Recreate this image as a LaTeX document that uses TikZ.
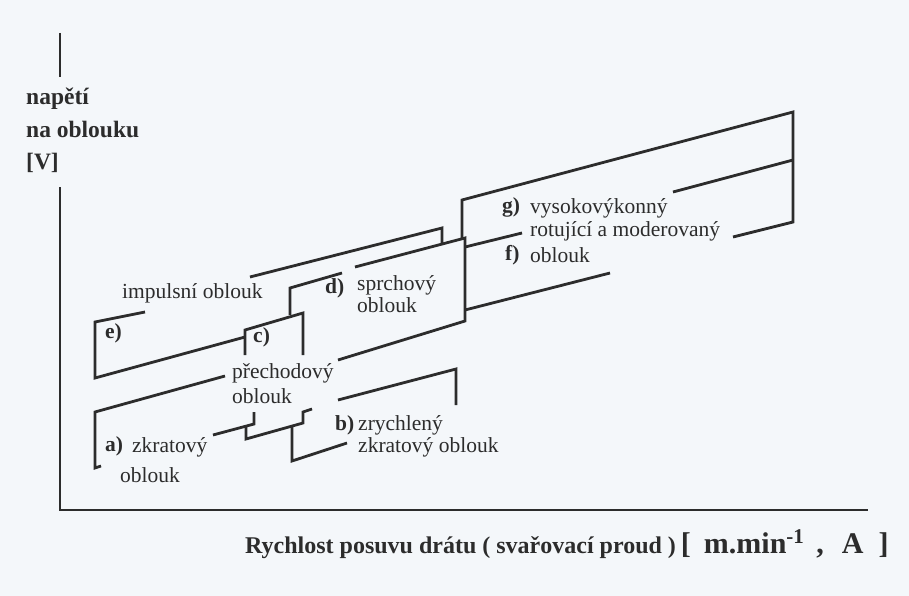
\documentclass[tikz,border=0pt]{standalone}
\usepackage{fontspec}
\setmainfont{Liberation Serif}
\definecolor{papir}{RGB}{244,247,250}
\definecolor{tuzka}{RGB}{44,44,44}
\tikzset{
  obrys/.style={line width=2.8pt, draw=tuzka, line cap=butt, line join=miter},
  osa/.style={line width=2.2pt, draw=tuzka},
  popis/.style={anchor=base west, inner sep=0pt, text=tuzka, font=\fontsize{21.5}{23}\selectfont},
  pismeno/.style={popis, font=\fontsize{21.5}{23}\selectfont\bfseries},
  osovy/.style={anchor=base west, inner sep=0pt, text=tuzka, font=\fontsize{23.5}{25}\selectfont\bfseries},
}
\begin{document}
\begin{tikzpicture}[x=1pt,y=-1pt]
    \fill[papir] (0,0) rectangle (909,596);
    \useasboundingbox (0,0) rectangle (909,596);
    % Osy
    \draw[osa] (60,33) -- (60,77);
    \draw[osa] (60,187) -- (60,510) -- (868,510);
    \node[osovy] (napeti) at (26,105) {napětí};
    \node[osovy] (naoblouku) at (26,138) {na oblouku};
    \node[osovy] (volty) at (26,169) {[V]};
    \node[osovy, font=\fontsize{24}{26}\selectfont\bfseries] (rychlost) at (245,553)
        {Rychlost posuvu drátu ( svařovací proud )\hspace{5pt}{\fontsize{30}{32}\selectfont[\hspace{13pt}m.min\textsuperscript{-1}\hspace{12pt},\hspace{18pt}A\hspace{15pt}]}};
    % a) zkratovy oblouk
    \draw[obrys] (101,466) -- (95,468) -- (95,412) -- (225,376);
    \draw[obrys] (213,435) -- (254,424) -- (254,412);
    % c) prechodovy oblouk
    \draw[obrys] (245,355) -- (245,330) -- (303,313) -- (303,355);
    \draw[obrys] (246,426) -- (246,439) -- (303,423) -- (303,412) -- (312,409);
    % b) zrychleny zkratovy oblouk
    \draw[obrys] (292,426) -- (292,461) -- (347,443);
    \draw[obrys] (338,400) -- (456,369) -- (456,405);
    % e) impulsni oblouk
    \draw[obrys] (145,312) -- (95,322) -- (95,378) -- (245,337);
    \draw[obrys] (250,277) -- (442,228) -- (442,243);
    % d) sprchovy oblouk
    \draw[obrys] (290,315) -- (290,288) -- (342,273);
    \draw[obrys] (355,267) -- (465,238) -- (465,321) -- (338,360);
    % g) a f) vysokovykonny oblouk
    \draw[obrys] (462,238) -- (462,200) -- (793,112) -- (793,222) -- (733,237);
    \draw[obrys] (465,247) -- (522,233);
    \draw[obrys] (673,192) -- (793,160);
    \draw[obrys] (465,310) -- (610,273);
    % Popisky
    \node[pismeno] (lble) at (105,338) {e)};
    \node[popis] (impulsni) at (122,298) {impulsní oblouk};
    \node[pismeno] (lblc) at (253,342) {c)};
    \node[popis] (prechodovy) at (232,378) {přechodový};
    \node[popis] (prechodovy2) at (232,403) {oblouk};
    \node[pismeno] (lbld) at (325,293) {d)};
    \node[popis] (sprchovy) at (357,290) {sprchový};
    \node[popis] (sprchovy2) at (357,312) {oblouk};
    \node[pismeno] (lbla) at (105,451) {a)};
    \node[popis] (zkratovy) at (132,452) {zkratový};
    \node[popis] (zkratovy2) at (120,482) {oblouk};
    \node[pismeno] (lblb) at (335,430) {b)};
    \node[popis] (zrychleny) at (358,430) {zrychlený};
    \node[popis] (zrychleny2) at (358,452) {zkratový oblouk};
    \node[pismeno] (lblg) at (502,212) {g)};
    \node[popis] (vysoko) at (530,213) {vysokovýkonný};
    \node[popis] (rotujici) at (530,236) {rotující a moderovaný};
    \node[pismeno] (lblf) at (505,260) {f)};
    \node[popis] (vysoko2) at (530,262) {oblouk};
\end{tikzpicture}
\end{document}
